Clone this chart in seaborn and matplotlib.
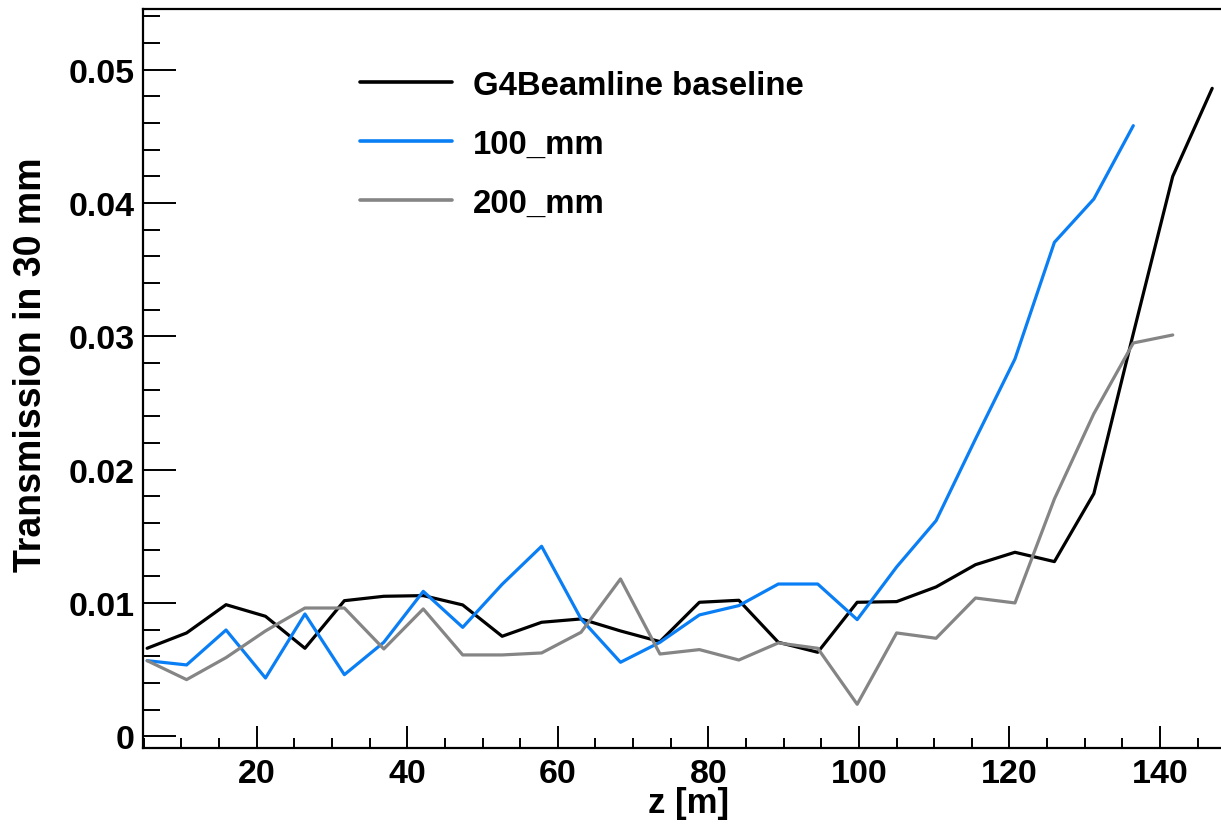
import numpy as np
import pandas as pd
import matplotlib
matplotlib.use("Agg")
import matplotlib.pyplot as plt
import seaborn as sns
from matplotlib.ticker import MultipleLocator, FixedLocator, FuncFormatter

# ---- data ----
z_start = 5.45
z_step = 5.24

baseline = [0.0066, 0.00775, 0.00987, 0.0090, 0.0066, 0.01017, 0.0105, 0.01055,
            0.00985, 0.0075, 0.00855, 0.0088, 0.0079, 0.0071, 0.01005, 0.0102,
            0.00705, 0.0063, 0.01005, 0.0101, 0.0112, 0.01287, 0.0138, 0.0131,
            0.0182, 0.0302, 0.0420, 0.0486]
mm100 = [0.00567, 0.00535, 0.00797, 0.00437, 0.00917, 0.00462, 0.00705, 0.01087,
         0.00817, 0.0114, 0.01425, 0.0088, 0.00555, 0.00705, 0.0091, 0.0098,
         0.01142, 0.01142, 0.00875, 0.0127, 0.01617, 0.0223, 0.0283, 0.03705,
         0.0403, 0.0458]
mm200 = [0.00567, 0.00425, 0.0059, 0.0079, 0.00962, 0.00962, 0.00655, 0.00955,
         0.0061, 0.0061, 0.00625, 0.0078, 0.0118, 0.00617, 0.0065, 0.00572,
         0.0070, 0.0066, 0.0024, 0.00775, 0.00735, 0.01037, 0.0100, 0.0178,
         0.0242, 0.0295, 0.0301]

series_names = ["G4Beamline baseline", "100_mm", "200_mm"]
series_values = [baseline, mm100, mm200]
series_colors = ["#000000", "#0a7ff5", "#858585"]

y_ticks = [0.0, 0.01, 0.02, 0.03, 0.04, 0.05]
x_ticks = [20, 40, 60, 80, 100, 120, 140]

rows = []
for name, vals in zip(series_names, series_values):
    for k, v in enumerate(vals):
        rows.append({"z": z_start + k * z_step, "T": v, "series": name})
df = pd.DataFrame(rows)

# ---- style ----
sns.set_theme(style="ticks")
plt.rcParams["font.family"] = ["Liberation Sans", "DejaVu Sans"]
plt.rcParams["font.weight"] = "bold"
plt.rcParams["axes.labelweight"] = "bold"
plt.rcParams["text.color"] = "black"
plt.rcParams["axes.labelcolor"] = "black"
plt.rcParams["xtick.color"] = "black"
plt.rcParams["ytick.color"] = "black"

fig = plt.figure(figsize=(12.21, 8.28), dpi=100)
ax = fig.add_axes([143 / 1221, 1 - 749 / 828, 1 - 143 / 1221, (749 - 10) / 828])

sns.lineplot(data=df, x="z", y="T", hue="series", hue_order=series_names,
             palette=series_colors, linewidth=2.3, ax=ax, sort=False,
             estimator=None)

ax.set_xlim(4.9, 148.1)
ax.set_ylim(-0.00088, 0.05455)

ax.xaxis.set_major_locator(FixedLocator(x_ticks))
ax.xaxis.set_minor_locator(MultipleLocator(5))
ax.yaxis.set_major_locator(FixedLocator(y_ticks))
ax.yaxis.set_minor_locator(MultipleLocator(0.002))
ax.yaxis.set_major_formatter(FuncFormatter(lambda v, p: "0" if abs(v) < 1e-9 else f"{v:.2f}"))
ax.xaxis.set_major_formatter(FuncFormatter(lambda v, p: f"{v:.0f}"))

ax.tick_params(axis="y", which="major", direction="in", length=24, width=1.4,
               labelsize=24.5, pad=6, color="black", labelcolor="black")
ax.tick_params(axis="y", which="minor", direction="in", length=12, width=1.4, color="black")
ax.tick_params(axis="x", which="major", direction="in", length=15.5, width=1.4,
               labelsize=24.5, pad=7, color="black", labelcolor="black")
ax.tick_params(axis="x", which="minor", direction="in", length=7.5, width=1.4, color="black")

for s in ["left", "bottom", "top"]:
    ax.spines[s].set_visible(True)
    ax.spines[s].set_linewidth(1.6)
    ax.spines[s].set_color("black")
ax.spines["right"].set_visible(False)

ax.set_xlabel("z [m]", fontsize=25, fontweight="bold", labelpad=-2)
ax.set_ylabel("Transmission in 30 mm", fontsize=27, fontweight="bold", labelpad=14)
ax.yaxis.label.set_y(0.52)
ax.xaxis.label.set_x(0.506)

for lab in ax.get_xticklabels() + ax.get_yticklabels():
    lab.set_fontweight("bold")

leg = ax.legend(frameon=False, loc="upper left",
                bbox_to_anchor=(360 / 1221, 1 - 71 / 828),
                bbox_transform=fig.transFigure, fontsize=23.7,
                handlelength=2.78, handletextpad=0.66, labelspacing=0.85,
                borderpad=0, borderaxespad=0)
for line in leg.get_lines():
    line.set_linewidth(2.6)
for t in leg.get_texts():
    t.set_fontweight("bold")
    t.set_color("black")

fig.savefig("out.png", dpi=100)
